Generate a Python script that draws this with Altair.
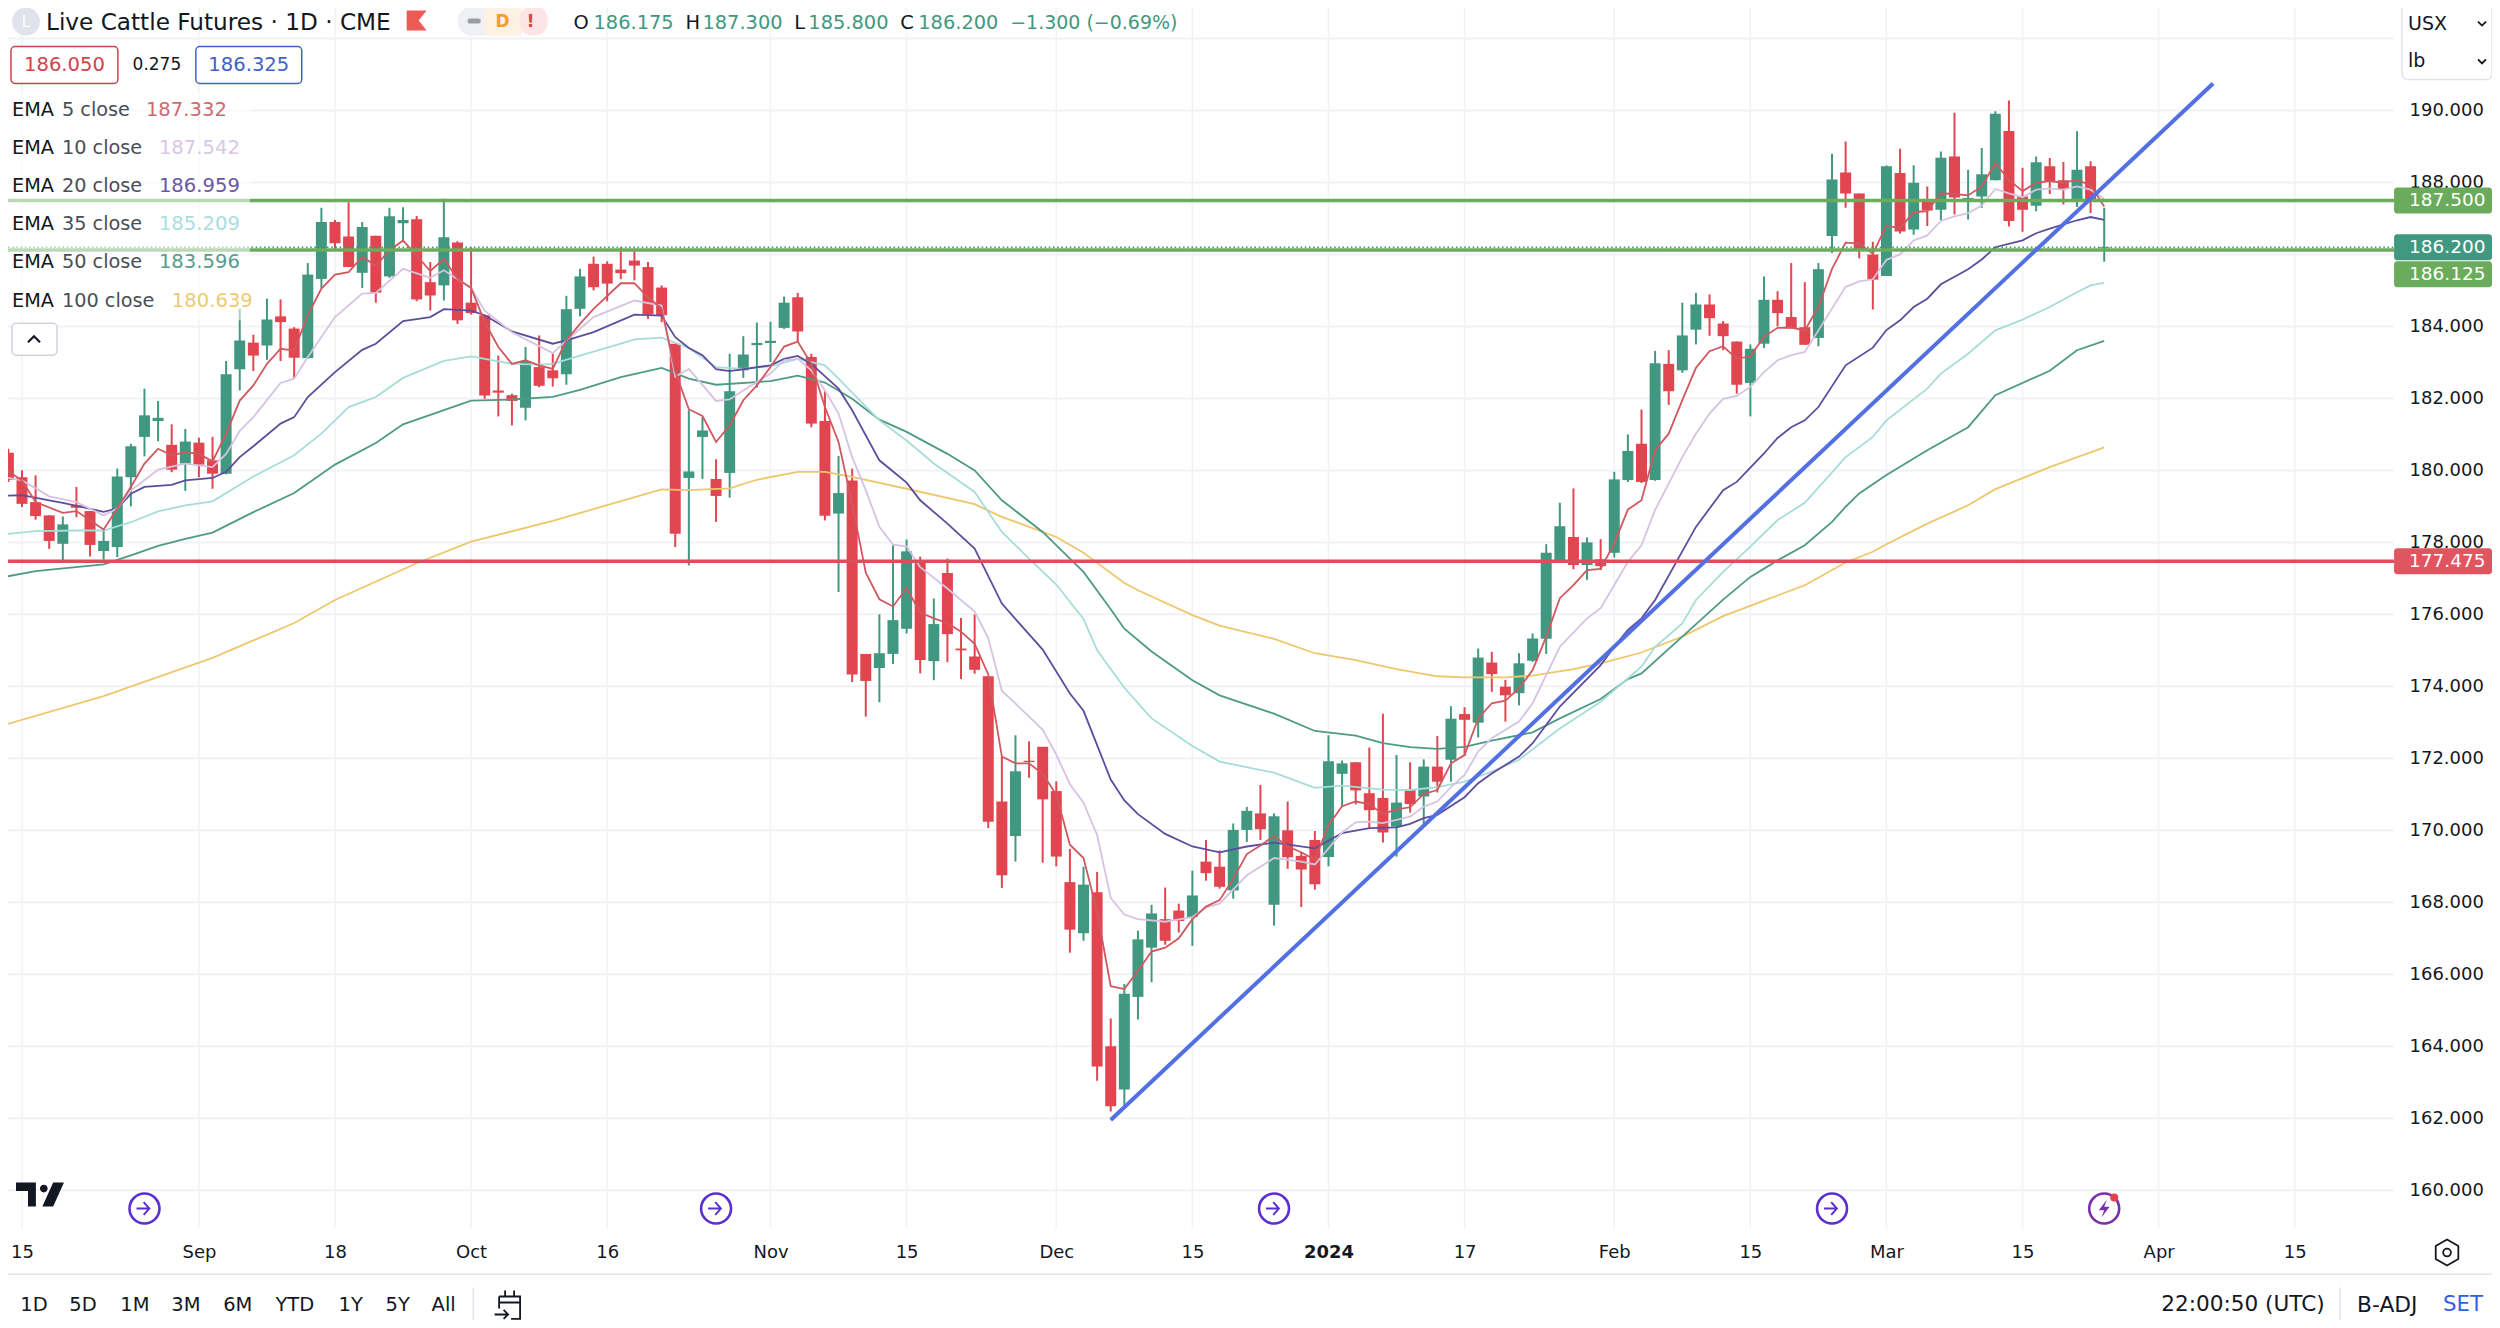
import altair as alt
import pandas as pd

# ---------- OHLC, bar index -1 .. 153 ----------
opens = [180.49,179.81,179.12,178.75,177.96,179.03,178.87,177.76,177.87,179.81,180.93,181.37,180.71,180.19,180.77,180.28,179.91,182.81,183.55,183.47,184.28,183.94,183.12,185.32,186.9,186.5,185.49,186.52,185.39,186.87,186.98,185.23,185.14,186.33,184.66,184.31,182.22,182.09,181.74,182.87,182.78,182.67,184.49,185.74,185.74,185.58,185.83,185.65,185.08,183.52,179.79,180.93,179.76,179.93,182.78,183.48,183.54,183.96,184.81,183.15,181.37,178.8,179.72,174.9,174.51,174.9,175.6,177.5,174.7,177.15,175.05,174.83,174.28,170.8,169.84,171.93,172.32,171.09,168.56,167.14,168.28,164.0,162.8,165.37,166.74,167.53,167.77,167.59,169.13,168.99,168.33,170.01,170.47,167.93,170.0,169.29,169.73,169.26,171.57,171.89,171.03,170.9,170.1,171.14,170.94,171.77,171.96,173.23,172.99,174.66,173.99,173.81,174.71,175.32,177.51,178.15,177.37,177.53,177.71,179.73,180.74,179.73,182.96,182.78,183.91,184.61,184.08,183.58,182.43,183.52,184.74,184.26,183.98,183.68,186.51,188.28,187.69,186.0,185.4,188.26,186.69,187.49,187.24,188.72,187.5,187.61,188.06,189.43,187.61,187.35,188.45,188.06,187.5,188.45,186.175]
highs = [180.6,180.0,179.86,178.75,178.72,179.54,178.87,178.38,180.05,180.74,182.27,181.93,181.28,181.15,180.91,180.93,183.04,184.49,183.77,184.77,184.75,183.98,185.76,187.3,186.96,187.45,186.9,186.52,187.3,187.31,187.07,185.79,187.55,186.37,186.2,184.31,183.19,182.13,183.43,183.75,183.24,184.85,185.6,185.94,185.81,186.2,186.13,185.79,185.14,183.52,181.67,181.48,180.31,183.24,183.73,184.11,184.13,184.83,184.93,183.24,182.2,180.4,180.05,174.9,176.0,177.92,178.08,177.6,176.44,177.55,175.9,176.0,174.28,172.05,172.64,172.47,172.32,171.36,169.48,168.99,168.84,164.77,165.73,167.21,167.93,168.41,167.96,168.88,169.73,169.44,170.19,170.65,171.26,170.47,170.8,169.39,169.98,172.64,171.94,171.89,172.3,173.24,172.09,171.89,171.97,172.62,173.45,173.42,175.05,174.96,174.18,174.92,175.47,177.95,179.1,179.5,178.14,178.09,179.96,181.0,181.69,183.32,183.34,184.66,184.93,184.89,184.15,183.58,183.5,185.39,184.98,185.76,185.23,185.76,188.8,189.14,187.69,186.35,188.47,188.94,188.48,187.89,188.86,189.94,188.35,188.96,189.98,190.28,188.41,188.72,188.68,188.57,189.42,188.59,187.3]
lows = [179.68,178.98,178.63,177.82,177.48,178.7,177.61,177.52,177.59,179.0,180.39,180.81,179.95,179.43,179.81,179.49,179.89,182.22,182.76,183.07,183.04,182.57,183.1,185.07,186.11,185.65,185.07,184.66,185.35,186.34,184.7,184.44,184.72,184.07,184.33,181.99,181.5,181.25,181.39,182.31,182.33,182.38,184.28,185.0,184.7,185.31,185.28,184.21,184.12,177.87,177.36,179.76,178.57,179.24,182.57,182.3,183.01,183.93,183.59,181.2,178.61,176.62,174.12,173.16,173.56,174.62,175.47,174.36,174.17,174.67,174.2,174.35,170.06,168.4,169.13,171.46,169.1,169.0,166.6,166.93,163.04,162.19,162.36,164.74,165.78,166.82,167.16,166.79,168.6,168.38,168.1,169.68,169.73,167.35,168.93,167.87,168.35,169.0,170.66,170.72,170.05,169.66,169.27,170.49,170.1,171.05,171.35,172.07,172.58,173.85,173.02,173.47,174.68,174.9,177.46,177.25,176.96,177.23,177.58,179.68,179.65,179.71,181.82,182.71,183.5,183.74,183.34,182.13,181.5,183.4,184.0,183.95,183.49,183.45,186.04,187.3,185.89,184.47,185.4,186.58,186.55,186.79,186.95,187.11,186.97,187.3,188.06,186.78,186.63,187.2,187.68,187.39,187.32,187.15,185.8]
closes = [179.74,179.07,178.73,178.04,178.5,178.96,177.93,178.04,179.83,180.67,181.53,181.46,180.02,180.8,180.16,179.91,182.67,183.61,183.19,184.19,184.12,183.13,185.44,186.9,186.31,185.65,186.76,184.94,187.06,186.96,184.75,184.86,186.48,184.17,184.37,182.08,182.16,181.93,183.04,182.35,182.56,184.48,185.39,185.09,185.19,185.48,185.69,184.33,184.31,178.24,179.97,181.11,179.29,182.2,183.22,183.54,183.6,184.66,183.86,181.3,178.74,179.37,174.33,174.15,174.92,175.84,177.75,174.73,175.73,175.45,175.0,174.46,170.24,168.75,171.64,171.9,170.86,169.27,167.24,168.49,163.44,162.33,165.46,166.97,167.69,166.93,167.48,168.19,168.81,168.43,170.01,170.54,170.03,170.39,169.25,168.91,168.5,171.92,171.86,171.11,170.56,169.94,170.77,170.73,171.77,171.35,173.1,173.07,174.8,174.34,173.75,174.64,175.33,177.71,178.45,177.37,178.0,177.34,179.75,180.54,179.68,182.98,182.2,183.75,184.61,184.23,183.73,182.38,183.38,184.74,184.37,183.95,183.49,185.59,188.08,187.69,186.1,185.3,188.45,186.64,187.99,187.22,188.69,187.58,187.57,188.23,189.91,186.93,187.24,188.56,188.03,187.82,188.35,187.48,186.2]

# ---------- EMA lines: bar index where read, value read ----------
ema100_i = [-2,6,14,20,23,29,33,39,47,49,52,54,57,59,61,65,70,72,76,78,79,81,82,86,88,92,95,98,101,104,106,109,111,114,116,119,122,125,128,131,134,136,137,140,143,145,149,153]
ema100_v = [172.85,173.73,174.79,175.76,176.4,177.42,178.02,178.6,179.47,179.45,179.5,179.74,179.96,179.96,179.82,179.49,179.06,178.71,178.15,177.71,177.43,176.87,176.67,175.98,175.69,175.32,174.92,174.73,174.48,174.28,174.25,174.25,174.3,174.48,174.64,174.94,175.38,175.95,176.38,176.81,177.44,177.74,177.95,178.52,179.03,179.48,180.09,180.639]
ema50_i = [-2,1,6,8,10,12,14,17,20,23,26,28,33,36,39,41,44,47,49,51,55,57,59,61,63,65,68,70,72,75,77,78,80,81,83,86,88,92,95,98,100,102,104,106,108,111,113,116,118,119,122,125,127,129,131,133,134,135,137,140,143,145,149,151,153]
ema50_v = [176.99,177.2,177.39,177.64,177.9,178.1,178.27,178.84,179.37,180.16,180.76,181.28,181.94,181.97,182.04,182.24,182.59,182.85,182.55,182.38,182.48,182.63,182.44,181.99,181.41,181.07,180.46,180.0,179.17,178.29,177.55,177.18,176.14,175.6,174.97,174.17,173.75,173.24,172.76,172.63,172.42,172.31,172.26,172.32,172.49,172.72,173.11,173.65,174.2,174.36,175.38,176.41,177.04,177.5,177.92,178.57,178.99,179.36,179.87,180.56,181.2,182.09,182.77,183.34,183.596]
ema35_i = [-2,1,4,6,8,10,12,14,17,20,22,24,26,28,31,33,36,38,39,41,44,45,47,49,51,53,55,57,59,60,63,65,67,70,72,74,76,78,79,81,83,86,88,92,95,97,100,102,104,106,108,110,113,116,119,120,122,123,125,127,129,131,134,136,137,140,141,143,145,147,149,151,152,153]
ema35_v = [178.2,178.31,178.33,178.33,178.56,178.86,179.03,179.14,179.83,180.42,181.02,181.76,182.04,182.57,183.04,183.17,182.96,182.94,182.96,183.19,183.52,183.64,183.69,183.4,182.87,182.82,182.89,183.1,182.92,182.55,181.39,180.83,180.19,179.4,178.29,177.55,176.83,175.87,175.0,173.96,173.11,172.34,171.91,171.6,171.18,171.24,171.13,171.12,171.2,171.35,171.63,171.96,172.83,173.57,174.55,175.1,175.75,176.4,177.18,177.88,178.62,179.1,180.37,180.93,181.39,182.27,182.69,183.24,183.89,184.19,184.54,184.95,185.14,185.209]
ema20_i = [-2,0,2,3,6,7,8,9,11,12,14,15,16,17,19,20,21,23,25,26,28,30,31,33,34,36,39,40,42,45,47,48,49,50,51,52,55,56,57,58,60,61,63,65,66,68,70,72,75,77,78,80,81,82,84,86,88,90,92,95,97,99,101,102,103,104,106,107,108,110,111,113,116,117,118,119,120,123,125,126,128,129,130,131,132,134,136,137,138,139,140,141,143,144,145,147,148,149,151,152,153]
ema20_v = [179.29,179.31,179.17,179.1,178.85,178.94,179.35,179.54,179.6,179.72,179.79,179.96,180.37,180.67,181.3,181.48,182.04,182.73,183.35,183.52,184.15,184.26,184.48,184.44,184.31,183.86,183.52,183.61,183.84,184.33,184.3,183.7,183.4,183.2,182.81,182.76,182.92,183.1,183.18,182.96,182.27,181.67,180.28,179.66,179.17,178.52,177.83,176.3,175.02,173.8,173.32,171.41,170.83,170.45,169.9,169.55,169.39,169.55,169.66,169.5,169.92,170.06,170.08,170.18,170.34,170.43,170.92,171.31,171.58,172.05,172.42,173.44,174.59,175.1,175.57,175.89,176.4,178.43,179.45,179.68,180.47,180.9,181.2,181.39,181.76,182.92,183.41,183.9,184.17,184.54,184.77,185.17,185.59,185.86,186.2,186.39,186.59,186.72,186.95,187.04,186.959]
ema10_i = [-2,0,2,4,6,7,8,10,12,14,15,16,17,19,20,21,23,25,26,28,30,31,33,34,36,39,40,42,45,47,48,49,51,52,53,55,56,57,58,59,60,61,62,63,64,65,66,68,70,71,72,74,75,76,77,78,79,80,81,82,84,86,87,88,90,92,94,95,97,98,99,100,102,103,104,105,106,107,108,110,111,112,113,115,116,118,119,120,122,123,124,125,126,127,128,129,130,131,132,134,135,136,137,138,139,140,141,142,143,144,145,146,147,148,149,150,151,152,153]
ema10_v = [179.86,179.72,179.28,179.12,178.75,178.94,179.44,180.02,180.19,180.09,180.46,181.1,181.48,182.43,182.55,183.15,184.26,184.91,184.93,185.6,185.35,185.56,185.07,184.44,183.84,183.26,183.61,184.26,184.72,184.58,182.6,182.82,181.93,181.97,182.22,182.69,183.06,183.1,182.78,182.22,181.58,180.37,179.45,178.43,177.94,177.89,177.31,176.72,176.08,175.34,173.88,173.16,172.79,172.1,171.28,170.77,169.87,168.12,167.66,167.53,167.46,167.59,167.85,167.96,168.75,169.23,169.13,169.05,169.94,170.22,170.24,170.2,170.38,170.66,170.8,171.2,171.54,172.19,172.56,173.02,173.53,174.31,175.1,175.89,176.17,177.46,177.92,178.9,180.37,181.02,181.58,181.99,182.07,182.32,182.73,183.06,183.2,183.29,183.89,185.1,185.25,185.31,185.85,186.0,186.39,186.53,186.93,187.06,187.15,187.36,187.82,187.7,187.59,187.8,187.83,187.8,187.89,187.8,187.542]
ema5_i = [-2,0,1,3,4,6,7,8,9,10,11,12,13,14,15,16,17,18,19,20,21,22,23,24,25,26,27,28,29,30,31,32,33,34,35,36,37,38,39,40,41,42,44,45,46,47,48,49,50,51,52,53,54,55,56,57,58,59,60,61,62,63,64,65,66,67,68,69,70,71,72,73,74,75,76,77,78,79,80,81,82,83,84,85,86,87,88,89,90,91,92,93,94,95,96,97,98,99,100,101,102,103,104,105,106,107,108,109,110,111,112,113,114,115,116,117,118,119,120,121,122,123,124,125,126,127,128,129,130,131,132,133,134,135,136,137,138,139,140,141,142,143,144,145,146,147,148,149,150,151,152,153]
ema5_v = [180.23,179.72,179.12,178.82,178.87,178.36,178.94,179.54,180.19,180.6,180.42,180.51,180.46,180.25,181.02,181.94,182.36,182.96,183.38,183.33,184.31,185.05,185.44,185.51,185.93,185.69,186.11,186.39,185.97,185.54,185.88,185.32,185.07,184.12,183.43,182.96,183.06,182.92,182.82,183.61,184.07,184.49,185.2,185.2,184.81,184.5,182.75,181.7,181.51,180.79,181.25,181.95,182.36,182.87,183.44,183.58,182.96,181.76,180.79,179.08,177.16,176.42,176.22,176.73,176.05,175.89,175.76,175.52,175.18,174.33,172.05,171.86,171.86,171.57,170.99,169.6,169.23,167.74,165.67,165.59,166.1,166.63,166.74,167.0,167.53,167.88,168.06,168.65,169.34,169.58,169.84,169.55,169.39,169.18,170.14,170.67,170.8,170.73,170.45,170.58,170.64,171.01,171.12,171.86,172.09,173.11,173.53,173.6,173.94,174.45,175.38,176.45,176.81,177.23,177.26,177.97,178.91,179.17,180.56,181.02,181.95,182.85,183.31,183.45,183.1,183.17,183.71,183.96,183.97,183.89,184.54,185.6,186.33,186.3,186.02,186.8,186.73,187.18,187.2,187.7,187.68,187.64,187.89,188.54,188.07,187.76,187.99,188.04,187.99,188.08,187.92,187.332]

trend_i = [80, 161]
trend_v = [161.95, 190.75]
level_prices = [187.5, 186.125]
support_price = 177.475
last_price = 186.2

tick_idx = [0,13,23,33,43,55,65,76,86,96,106,117,127,137,147,157,167]
tick_txt = ["15","Sep","18","Oct","16","Nov","15","Dec","15","2024","17","Feb","15","Mar","15","Apr","15"]
price_ticks = list(range(160, 191, 2))
event_idx = [9, 51, 92, 133]

GREEN, RED = "#419880", "#e04550"
LEVEL_G, LEVEL_R, BLUE = "#6aab5c", "#d9505c", "#5270e4"
FONT = "DejaVu Sans"
INK, GREY = "#131722", "#4a4e58"

W, H = 2388, 1191
bar_idx = list(range(-1, 154))
candles = pd.DataFrame({"i": bar_idx, "o": opens, "h": highs, "l": lows, "c": closes})
candles["dir"] = ["up" if c >= o else "down" for o, c in zip(opens, closes)]

xs = alt.Scale(domain=[-1.028, 174.3], nice=False, zero=False, padding=0)
ys = alt.Scale(domain=[158.935, 192], nice=False, zero=False)

expr = "{" + ",".join(f"'{i}':'{t}'" for i, t in zip(tick_idx, tick_txt)) + "}[datum.value]"
x_axis = alt.Axis(values=tick_idx, labelExpr=expr, title=None, domain=False, ticks=False, grid=False,
                  labelFont=FONT, labelFontSize=18, labelColor=INK, labelPadding=15, labelOverlap=False,
                  labelFontWeight={"condition": {"test": "datum.value == 96", "value": "bold"}, "value": "normal"})
y_axis = alt.Axis(values=price_ticks, format=".3f", orient="right", title=None, domain=False, ticks=False,
                  grid=False, labelFont=FONT, labelFontSize=18, labelColor=INK, labelPadding=15, labelOverlap=False)

X = alt.X("i:Q", scale=xs, axis=x_axis)
Y = alt.Y("p:Q", scale=ys, axis=y_axis)
cc = alt.Color("dir:N", scale=alt.Scale(domain=["up", "down"], range=[GREEN, RED]), legend=None)
layers = []

layers.append(alt.Chart(pd.DataFrame({"i": tick_idx})).mark_rule(color="#f0f2f7", strokeWidth=1.5).encode(
    x=X, y=alt.value(-38), y2=alt.value(H)))
layers.append(alt.Chart(pd.DataFrame({"p": price_ticks + [192]})).mark_rule(color="#f1f2f6", strokeWidth=2).encode(
    y=Y, x=alt.value(0), x2=alt.value(W)))

# candles
layers.append(alt.Chart(candles).mark_rule(strokeWidth=2, clip=True).encode(
    x=X, y=alt.Y("h:Q", scale=ys, axis=y_axis), y2="l:Q", color=cc))
layers.append(alt.Chart(candles).mark_bar(size=11, orient="vertical", clip=True).encode(
    x=X, y=alt.Y("o:Q", scale=ys, axis=y_axis), y2="c:Q", color=cc))

# EMAs
for xi, vi, col in [(ema100_i, ema100_v, "#eec76c"), (ema50_i, ema50_v, "#4f9a85"), (ema35_i, ema35_v, "#a6dcd9"),
                    (ema20_i, ema20_v, "#5e4c9c"), (ema10_i, ema10_v, "#d6c3e2"), (ema5_i, ema5_v, "#d0585f")]:
    layers.append(alt.Chart(pd.DataFrame({"i": xi, "p": vi})).mark_line(color=col, strokeWidth=1.8, clip=True).encode(x=X, y=Y))

# levels and trend line
layers.append(alt.Chart(pd.DataFrame({"p": level_prices})).mark_rule(color=LEVEL_G, strokeWidth=3.5).encode(
    y=Y, x=alt.value(0), x2=alt.value(W)))
layers.append(alt.Chart(pd.DataFrame({"p": [support_price]})).mark_rule(color=LEVEL_R, strokeWidth=3.5).encode(
    y=Y, x=alt.value(0), x2=alt.value(W)))
layers.append(alt.Chart(pd.DataFrame({"p": [last_price]})).mark_rule(color=GREEN, strokeWidth=1.6, strokeDash=[1.6, 2.6]).encode(
    y=Y, x=alt.value(0), x2=alt.value(W)))
layers.append(alt.Chart(pd.DataFrame({"i": trend_i, "p": trend_v})).mark_line(color=BLUE, strokeWidth=4).encode(x=X, y=Y))


def rect(x0, x1, y0, y1, fill="#ffffff", stroke=None, sw=1.5, r=0, op=1.0):
    kw = dict(fill=fill, cornerRadius=r, opacity=op)
    if stroke:
        kw.update(stroke=stroke, strokeWidth=sw)
    layers.append(alt.Chart(pd.DataFrame({"a": [0]})).mark_rect(**kw).encode(
        x=alt.value(x0 - 8), x2=alt.value(x1 - 8), y=alt.value(y0 - 38), y2=alt.value(y1 - 38)))


def txt(s, x, y, col=INK, size=19.6, align="left", weight="normal"):
    layers.append(alt.Chart(pd.DataFrame({"t": [s]})).mark_text(
        font=FONT, fontSize=size, color=col, align=align, baseline="middle", fontWeight=weight).encode(
        text="t:N", x=alt.value(x - 8), y=alt.value(y - 38)))


def icon(path, x, y, d, col, filled=False, sw=2.0):
    layers.append(alt.Chart(pd.DataFrame({"a": [0]})).mark_point(
        shape=path, size=d * d, filled=filled, color=col, strokeWidth=sw, opacity=1).encode(
        x=alt.value(x - 8), y=alt.value(y - 38)))


# legend wash
rect(0, 250, 92, 320, op=0.55)

# price tags
tag_center = [187.5, 186.2, 185.45, 177.475]
tag_fill = [LEVEL_G, GREEN, LEVEL_G, "#e0555f"]
tag_text = ["187.500", "186.200", "186.125", "177.475"]
half = 0.361
for c, f, t in zip(tag_center, tag_fill, tag_text):
    d = pd.DataFrame({"p": [c + half], "q": [c - half], "m": [c], "t": [t]})
    layers.append(alt.Chart(d).mark_rect(fill=f, cornerRadius=3).encode(
        y=Y, y2="q:Q", x=alt.value(W), x2=alt.value(2486)))
    layers.append(alt.Chart(d).mark_text(font=FONT, fontSize=18.5, color="#ffffff", align="left", baseline="middle").encode(
        y=alt.Y("m:Q", scale=ys, axis=y_axis), x=alt.value(2403), text="t:N"))

# header
icon("circle", 26, 21, 28, "#e0e3eb", filled=True)
txt("L", 26, 21, "#ffffff", 15, "center")
txt("Live Cattle Futures · 1D · CME", 46, 22, INK, 23.2)
icon("M-1,-1 H1 L0.2,0 L1,1 H-1 Z", 417, 20, 20, "#ee5a55", filled=True)
rect(458, 496, 6, 35, fill="#eef0f4", r=14)
rect(484, 522, 6, 35, fill="#fdf1e3")
rect(520, 548, 6, 35, fill="#fde5e6", r=12)
rect(468, 481, 18, 23, fill="#9a9da6", r=2)
txt("D", 503, 21, "#f59c2a", 17, "center", "bold")
txt("!", 531, 21, "#e5414b", 18, "center", "bold")

ohlc = [("O", 574, INK), ("186.175", 594, GREEN), ("H", 686, INK), ("187.300", 703, GREEN), ("L", 795, INK),
        ("185.800", 809, GREEN), ("C", 901, INK), ("186.200", 919, GREEN), ("−1.300 (−0.69%)", 1011, GREEN)]
for s, x, c in ohlc:
    txt(s, x, 22, c, 19 if s.startswith("−") else 19.4)

rect(11, 118, 46, 83, stroke="#c8454e", r=4)
txt("186.050", 64.5, 65, "#d0434d", 19.6, "center")
txt("0.275", 157, 65, INK, 17, "center")
rect(196, 302, 46, 83, stroke="#3f63c8", r=4)
txt("186.325", 249, 65, "#3f63c8", 19.6, "center")

# EMA legend
rows = [("5 close", "187.332", 146, "#d2686e", 110), ("10 close", "187.542", 159, "#d9c7e4", 148),
        ("20 close", "186.959", 159, "#6a57a6", 186), ("35 close", "185.209", 159, "#a9dde0", 224),
        ("50 close", "183.596", 159, "#549e8b", 262), ("100 close", "180.639", 172, "#eccb72", 301)]
for lab, val, vx, col, y in rows:
    txt("EMA", 12, y, INK, 19.3)
    txt(lab, 62, y, GREY, 19.3)
    txt(val, vx, y, col, 19.6)
rect(12, 57, 323, 355, stroke="#d1d4dc", r=4)
icon("M-1,0.5 L0,-0.5 L1,0.5", 34, 339, 12, INK, sw=2.2)

# unit selector
rect(2404, 2494, 2, 79, stroke="#e0e3eb", r=6)
txt("USX", 2410, 23, INK, 19)
txt("lb", 2410, 61, INK, 19)
icon("M-1,-0.5 L0,0.5 L1,-0.5", 2484, 23, 8, INK, sw=1.8)
icon("M-1,-0.5 L0,0.5 L1,-0.5", 2484, 61, 8, INK, sw=1.8)

# logo
icon("M-1,-0.5 H-0.17 V0.5 H-0.5 V-0.15 H-1 Z M0,-0.25 a0.16,0.16 0 1 0 0.32,0 a0.16,0.16 0 1 0 -0.32,0 Z M0.55,-0.5 H1 L0.55,0.5 H0.1 Z",
     40, 1195, 48, "#131722", filled=True, sw=0)

# event icons on the time scale
events = pd.DataFrame({"i": event_idx})
layers.append(alt.Chart(events).mark_point(shape="circle", size=900, color="#5a30d0", strokeWidth=2.6, filled=False, opacity=1).encode(
    x=X, y=alt.value(1209 - 38)))
layers.append(alt.Chart(events).mark_point(shape="M-1,0 H0.5 M-0.1,-0.8 L0.6,0 L-0.1,0.8", size=256, color="#5a30d0", strokeWidth=2, filled=False, opacity=1).encode(
    x=X, y=alt.value(1209 - 38)))
last = pd.DataFrame({"i": [153]})
layers.append(alt.Chart(last).mark_point(shape="circle", size=900, color="#7b2fa8", strokeWidth=2.6, filled=False, opacity=1).encode(
    x=X, y=alt.value(1209 - 38)))
layers.append(alt.Chart(last).mark_point(shape="M0.3,-1 L-0.6,0.2 H0 L-0.3,1 L0.6,-0.2 H0 Z", size=324, color="#7b2fa8", filled=True, opacity=1).encode(
    x=X, y=alt.value(1209 - 38)))
layers.append(alt.Chart(last).mark_point(shape="circle", size=64, color="#e5414b", filled=True, opacity=1, xOffset=10, yOffset=-11).encode(
    x=X, y=alt.value(1209 - 38)))

# gear
icon("M0,-1 L0.87,-0.5 V0.5 L0,1 L-0.87,0.5 V-0.5 Z M0.3,0 a0.3,0.3 0 1 0 -0.6,0 a0.3,0.3 0 1 0 0.6,0 Z", 2449, 1253, 26, INK, sw=1.8)

# bottom bar
rect(0, 2500, 1274, 1275.5, fill="#e0e3eb")
for s, x in zip(["1D", "5D", "1M", "3M", "6M", "YTD", "1Y", "5Y", "All"], [34, 83, 135, 186, 238, 295, 351, 398, 444]):
    txt(s, x, 1306, INK, 19.5, "center")
rect(473, 474.5, 1288, 1322, fill="#e0e3eb")
icon("M-0.7,-0.6 H0.7 V0.9 H0.1 M-0.7,-0.6 V0.2 M-0.7,-0.2 H0.7 M-0.3,-1 V-0.6 M0.3,-1 V-0.6 M-1,0.6 H-0.1 M-0.4,0.3 L-0.1,0.6 L-0.4,0.9",
     510, 1306, 30, INK, sw=1.8)
txt("22:00:50 (UTC)", 2163, 1306, INK, 21.6)
rect(2341, 2342.5, 1288, 1322, fill="#e0e3eb")
txt("B-ADJ", 2359, 1306, INK, 21.8)
txt("SET", 2445, 1306, "#2f62e0", 21.3)

chart = alt.layer(*layers).properties(
    width=W, height=H,
    padding={"left": 0, "top": 30, "right": 98, "bottom": 91},
    autosize=alt.AutoSizeParams(type="none", contains="content"),
    background="#ffffff",
).configure_view(stroke=None)

chart.save("out.html", embed_options={"renderer": "svg", "actions": False})
